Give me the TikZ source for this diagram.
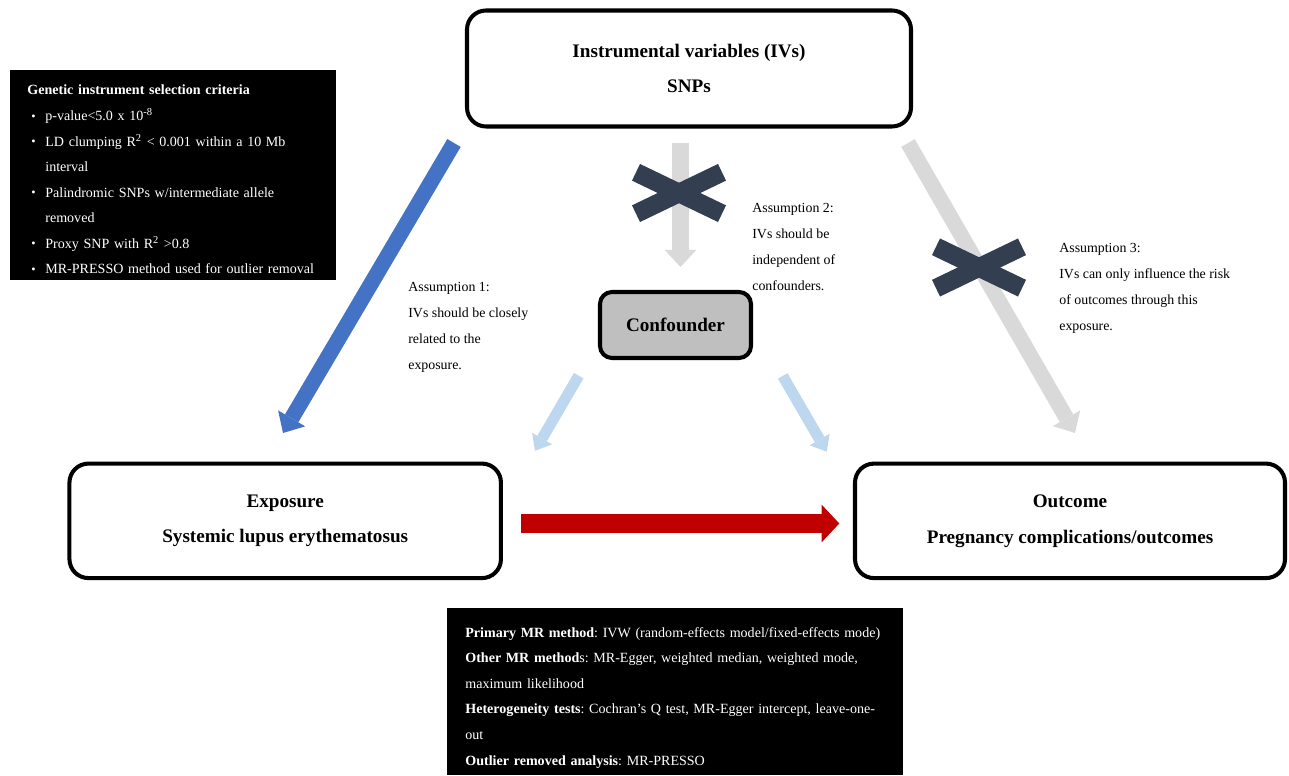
\documentclass[tikz,border=0pt]{standalone}
\usepackage{fontspec}
\setmainfont{Liberation Serif}
\usetikzlibrary{arrows.meta}
\definecolor{ivblue}{RGB}{68,114,196}
\definecolor{lightgrey}{RGB}{217,217,217}
\definecolor{paleblue}{RGB}{189,215,238}
\definecolor{darkred}{RGB}{192,0,0}
\definecolor{crossnavy}{RGB}{51,63,80}
\definecolor{confgrey}{RGB}{191,191,191}
\newcommand{\critem}{\par\hangindent=0.36cm\hangafter=1\noindent\makebox[0.36cm][l]{\hspace{0.08cm}\raisebox{0.3pt}{\fontsize{7}{7}\selectfont\textbullet}}}
\newcommand{\critbreak}{\hfil\break}

\begin{document}
\begin{tikzpicture}[
  box/.style={draw, line width=2.3pt, rounded corners=0.38cm, fill=white, align=center, font=\fontsize{10.9}{20.4}\selectfont\bfseries},
  blackbox/.style={fill=black, inner sep=0pt},
  note/.style={anchor=north west, align=left, inner sep=0pt, font=\fontsize{7.9}{14.7}\selectfont},
  boxtext/.style={anchor=north west, inner sep=0pt, text=white, font=\fontsize{8}{14.55}\selectfont\frenchspacing},
  bigarrow/.style={line width=0.31cm, -{Triangle[width=0.63cm, length=0.34cm, line width=0pt]}},
  smallarrow/.style={line width=0.22cm, paleblue, -{Triangle[width=0.46cm, length=0.28cm, line width=0pt]}},
  cross/.style={line width=0.37cm, crossnavy}
]
\useasboundingbox (0,0) rectangle (25.780,15.500);

\node[box, minimum width=8.88cm, minimum height=2.32cm] (ivs) at (13.780,14.130) {Instrumental variables (IVs)\\SNPs};
\node[box, minimum width=8.63cm, minimum height=2.29cm] (exposure) at (5.704,5.083) {Exposure\\Systemic lupus erythematosus};
\node[box, minimum width=8.60cm, minimum height=2.29cm] (outcome) at (21.400,5.083) {Outcome\\Pregnancy complications/outcomes};
\node[box, fill=confgrey, rounded corners=0.24cm, minimum width=3.02cm, minimum height=1.32cm] (confounder) at (13.510,9.000) {Confounder};

\node[blackbox, minimum width=6.52cm, minimum height=4.20cm] (criteria) at (3.460,12.000) {};
\node[boxtext, text width=6.1cm] (criteriatext) at (0.540,13.820) {\noindent\textbf{Genetic instrument selection criteria}\par\vspace{0.5pt}
\critem p-value<5.0 x 10\textsuperscript{-8}
\critem LD clumping R\textsuperscript{2} < 0.001 within a 10 Mb\critbreak interval
\critem Palindromic SNPs w/intermediate allele\critbreak removed
\critem Proxy SNP with R\textsuperscript{2} >0.8
\critem MR-PRESSO method used for outlier removal};

\node[blackbox, minimum width=9.12cm, minimum height=3.34cm] (methods) at (13.500,1.670) {};
\node[boxtext, text width=8.6cm] (methodstext) at (9.300,2.960) {\noindent\textbf{Primary MR method}: IVW (random-effects model/fixed-effects mode)\\
\textbf{Other MR method}s: MR-Egger, weighted median, weighted mode,\\maximum likelihood\\
\textbf{Heterogeneity tests}: Cochran's Q test, MR-Egger intercept, leave-one-\\out\\
\textbf{Outlier removed analysis}: MR-PRESSO};

\node[note] (assume1) at (8.160,9.860) {Assumption 1:\\IVs should be closely\\related to the\\exposure.};
\node[note] (assume2) at (15.040,11.440) {Assumption 2:\\IVs should be\\independent of\\confounders.};
\node[note] (assume3) at (21.180,10.640) {Assumption 3:\\IVs can only influence the risk\\of outcomes through this\\exposure.};

\coordinate (ivl) at (9.080,12.640);
\coordinate (expin) at (5.660,6.840);
\coordinate (ivm) at (13.610,12.640);
\coordinate (confin) at (13.610,10.160);
\coordinate (ivr) at (18.160,12.640);
\coordinate (outin) at (21.500,6.840);
\coordinate (confl) at (11.574,7.986);
\coordinate (expc) at (10.700,6.486);
\coordinate (confr) at (15.654,7.980);
\coordinate (outc) at (16.534,6.466);
\coordinate (expr) at (10.420,5.030);
\coordinate (outl) at (16.786,5.030);

\draw[bigarrow, ivblue] (ivl) -- (expin);
\draw[bigarrow, lightgrey, line width=0.33cm] (ivm) -- (confin);
\draw[bigarrow, lightgrey] (ivr) -- (outin);
\draw[smallarrow] (confl) -- (expc);
\draw[smallarrow] (confr) -- (outc);
\draw[line width=0.386cm, darkred, -{Triangle[width=0.754cm, length=0.354cm, line width=0pt]}] (expr) -- (outl);

\coordinate (xmid) at (13.580,11.640);
\coordinate (xright) at (19.580,10.150);
\draw[cross] ([shift={(-0.860,0.414)}]xmid) -- ([shift={(0.860,-0.414)}]xmid);
\draw[cross] ([shift={(-0.860,-0.414)}]xmid) -- ([shift={(0.860,0.414)}]xmid);
\draw[cross] ([shift={(-0.860,0.414)}]xright) -- ([shift={(0.860,-0.414)}]xright);
\draw[cross] ([shift={(-0.860,-0.414)}]xright) -- ([shift={(0.860,0.414)}]xright);
\end{tikzpicture}
\end{document}
